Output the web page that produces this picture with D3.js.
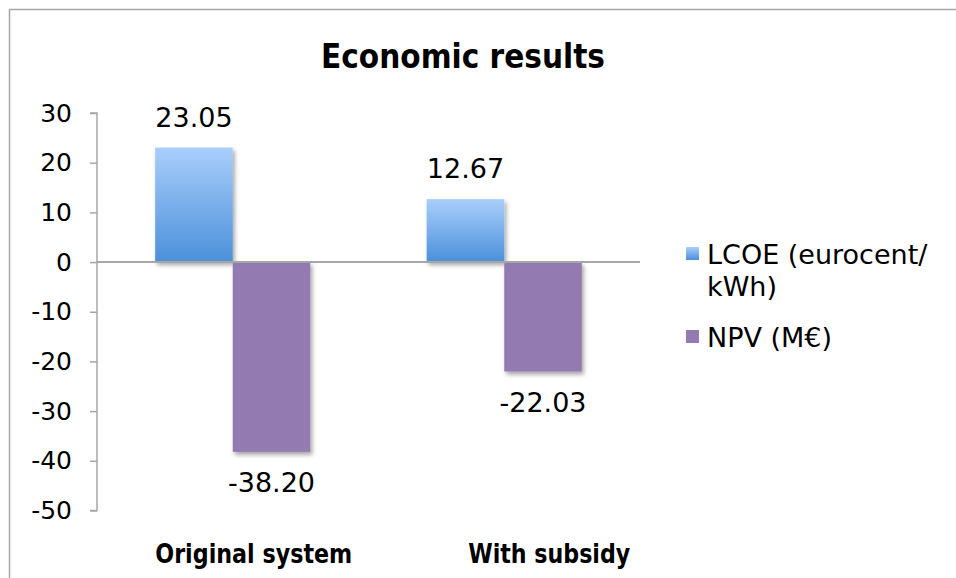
<!DOCTYPE html>
<html>
<head>
<meta charset="utf-8">
<script src="https://cdn.jsdelivr.net/npm/d3@7"></script>
<style>
  html, body { margin: 0; padding: 0; background: #fff; }
  svg { display: block; font-family: "DejaVu Sans", Verdana, sans-serif; }
</style>
</head>
<body>
<svg id="chart" width="956" height="578"></svg>
<script>
// Chart data
const categories = ["Original system", "With subsidy"];
const seriesNames = ["LCOE (eurocent/kWh)", "NPV (M€)"];
const lcoeValues = [23.05, 12.67];
const npvValues = [-38.20, -22.03];
const yTicks = [30, 20, 10, 0, -10, -20, -30, -40, -50];

const rows = categories.map((c, i) => ({
  category: c,
  values: [
    { key: seriesNames[0], value: lcoeValues[i] },
    { key: seriesNames[1], value: npvValues[i] }
  ]
}));

// Number formatting with a plain hyphen for negatives
const locale = d3.formatLocale({ decimal: ".", thousands: ",", grouping: [3], currency: ["", ""], minus: "-" });
const fmtValue = locale.format(".2f");
const fmtTick = locale.format("d");

const svg = d3.select("#chart");
const defs = svg.append("defs");

// Blue bars: light top fading to deeper blue at the bottom
const grad = defs.append("linearGradient")
  .attr("id", "lcoeGrad").attr("x1", 0).attr("y1", 0).attr("x2", 0).attr("y2", 1);
grad.append("stop").attr("offset", "0%").attr("stop-color", "#a9cefb");
grad.append("stop").attr("offset", "100%").attr("stop-color", "#4b90da");

// Soft drop shadow under the bars
const shadow = defs.append("filter").attr("id", "barShadow")
  .attr("x", "-20%").attr("y", "-20%").attr("width", "150%").attr("height", "150%");
shadow.append("feDropShadow")
  .attr("dx", 2).attr("dy", 3).attr("stdDeviation", 2)
  .attr("flood-color", "#000").attr("flood-opacity", 0.35);

const fills = { [seriesNames[0]]: "url(#lcoeGrad)", [seriesNames[1]]: "#937ab0" };

// Outer frame
svg.append("rect")
  .attr("x", 9.5).attr("y", 9.5).attr("width", 1000).attr("height", 1000)
  .attr("fill", "none").attr("stroke", "#a6a6a6").attr("stroke-width", 1.5);

// Scales
const plotLeft = 97, plotRight = 640;
const y = d3.scaleLinear().domain([-50, 30]).range([510.5, 113]);
const x0 = d3.scaleBand().domain(categories).range([plotLeft, plotRight]).padding(0);
const x1 = d3.scaleBand().domain(seriesNames).range([0, x0.bandwidth()])
  .paddingInner(0).paddingOuter(0.75);

// Title
svg.append("text")
  .attr("x", 463).attr("y", 68)
  .attr("text-anchor", "middle")
  .attr("font-size", 33).attr("font-weight", "bold").attr("fill", "#000")
  .attr("textLength", 284).attr("lengthAdjust", "spacingAndGlyphs")
  .text("Economic results");

// Y axis
const yAxis = d3.axisLeft(y).tickValues(yTicks).tickSize(7).tickPadding(18)
  .tickFormat(fmtTick);
const gy = svg.append("g").attr("transform", `translate(${plotLeft},0)`).call(yAxis);
gy.select(".domain").attr("stroke", "#a6a6a6").attr("stroke-width", 1.5)
  .attr("d", `M-7,${y(30)}H0V${y(-50)}H-7`);
gy.selectAll(".tick line").attr("stroke", "#a6a6a6").attr("stroke-width", 1.5);
gy.selectAll(".tick text").attr("font-size", 25).attr("fill", "#000")
  .attr("font-family", "DejaVu Sans, Verdana, sans-serif");

// Bars
const groups = svg.append("g").selectAll("g").data(rows).join("g")
  .attr("transform", d => `translate(${x0(d.category)},0)`);

groups.selectAll("rect").data(d => d.values).join("rect")
  .attr("x", d => x1(d.key))
  .attr("width", x1.bandwidth())
  .attr("y", d => y(Math.max(0, d.value)))
  .attr("height", d => Math.abs(y(d.value) - y(0)))
  .attr("fill", d => fills[d.key])
  .attr("filter", "url(#barShadow)");

// Zero line
svg.append("line")
  .attr("x1", plotLeft).attr("x2", plotRight)
  .attr("y1", y(0)).attr("y2", y(0))
  .attr("stroke", "#a6a6a6").attr("stroke-width", 2);

// Value labels
groups.selectAll("text.value").data(d => d.values).join("text")
  .attr("class", "value")
  .attr("x", d => x1(d.key) + x1.bandwidth() / 2)
  .attr("y", d => d.value >= 0 ? y(d.value) - 21 : y(d.value) + 40)
  .attr("text-anchor", "middle")
  .attr("font-size", 27).attr("fill", "#000")
  .text(d => fmtValue(d.value));

// Category labels
const categoryShift = [21, 45];
const categoryWidth = [197, 162];
svg.append("g").selectAll("text").data(categories).join("text")
  .attr("x", (d, i) => x0(d) + x0.bandwidth() / 2 + categoryShift[i])
  .attr("y", 563)
  .attr("text-anchor", "middle")
  .attr("font-size", 26).attr("font-weight", "bold").attr("fill", "#000")
  .attr("textLength", (d, i) => categoryWidth[i]).attr("lengthAdjust", "spacingAndGlyphs")
  .text(d => d);

// Legend
const legendItems = [
  { key: seriesNames[0], lines: ["LCOE (eurocent/", "kWh)"], y: 247 },
  { key: seriesNames[1], lines: ["NPV (M€)"], y: 330 }
];
const lg = svg.append("g").selectAll("g").data(legendItems).join("g");
lg.append("rect")
  .attr("x", 686).attr("y", d => d.y).attr("width", 13).attr("height", 13)
  .attr("fill", d => fills[d.key]);
lg.append("text")
  .attr("x", 707).attr("y", d => d.y + 17)
  .attr("font-size", 27).attr("fill", "#000")
  .selectAll("tspan").data(d => d.lines).join("tspan")
  .attr("x", 707).attr("dy", (d, i) => i === 0 ? 0 : 32)
  .text(d => d);
</script>
</body>
</html>
